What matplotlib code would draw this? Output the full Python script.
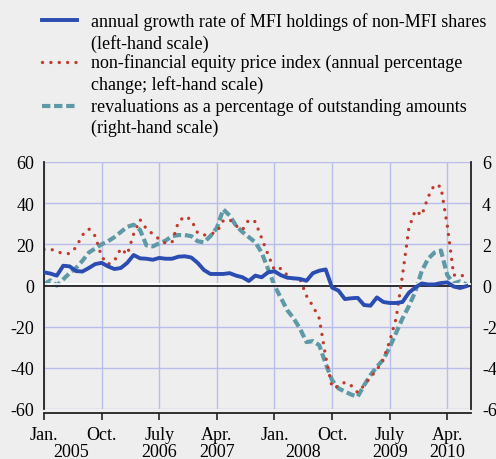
import numpy as np
import matplotlib
matplotlib.use("Agg")
import matplotlib.pyplot as plt
from matplotlib.lines import Line2D
from matplotlib import transforms

# ---------------- data (monthly, Jan. 2005 - July 2010) ----------------
blue = [6.4, 5.8, 4.8, 9.6, 9.3, 7.0, 6.8, 8.5, 10.4, 11.0,
        9.3, 8.0, 8.5, 11.0, 14.8, 13.2, 13.0, 12.5, 13.4, 13.0,
        13.0, 14.0, 14.2, 13.6, 11.0, 7.5, 5.6, 5.6, 5.6, 6.0,
        4.8, 4.0, 2.2, 4.8, 4.0, 6.4, 6.9, 5.0, 3.8, 3.5,
        3.2, 2.3, 6.0, 7.2, 7.8, -1.0, -2.5, -6.6, -6.2, -6.0,
        -9.5, -9.8, -5.8, -8.0, -8.5, -8.5, -8.0, -3.5, -1.0, 1.0,
        0.5, 0.5, 1.2, 1.5, -0.5, -1.2, -0.3]

red = [17.5, 17.7, 16.5, 15.5, 15.5, 18.5, 24.5, 27.5, 24.0, 14.0,
       10.3, 12.0, 18.0, 15.0, 25.0, 32.0, 27.5, 25.0, 22.5, 20.5,
       21.0, 31.0, 33.6, 32.0, 25.5, 24.5, 25.0, 26.0, 31.5, 32.0,
       29.0, 27.0, 32.0, 31.0, 23.0, 15.0, 7.5, 8.3, 5.0, 3.2,
       3.0, -5.0, -10.0, -16.0, -34.6, -49.5, -49.0, -47.0, -48.7, -52.0,
       -48.5, -44.5, -41.0, -36.0, -27.0, -16.0, 5.0, 28.0, 36.5, 34.0,
       43.0, 49.0, 48.0, 29.0, 5.0, 5.5, 3.5]

# right-hand scale
teal = [0.05, 0.25, 0.0, 0.3, 0.6, 0.85, 1.2, 1.6, 1.8, 2.0,
        2.15, 2.35, 2.6, 2.85, 2.95, 2.7, 1.95, 1.9, 2.05, 2.18,
        2.4, 2.45, 2.45, 2.4, 2.15, 2.1, 2.4, 2.8, 3.7, 3.4,
        2.9, 2.6, 2.35, 2.1, 1.6, 0.8, 0.0, -0.6, -1.2, -1.6,
        -2.1, -2.75, -2.7, -2.9, -3.8, -4.6, -5.0, -5.15, -5.3, -5.4,
        -4.85, -4.35, -3.95, -3.6, -3.0, -2.3, -1.6, -1.0, -0.3, 0.7,
        1.3, 1.6, 1.7, 0.5, 0.1, 0.2, 0.05]

tick_pos = [0, 9, 18, 27, 36, 45, 54, 63]
tick_labels = ["Jan.", "Oct.", "July", "Apr.", "Jan.", "Oct.", "July", "Apr."]
year_labels = ["2005", "2006", "2007", "2008", "2009", "2010"]
year_pos = [4.2, 18, 27, 40.4, 54, 63]
left_ticks = [-60, -40, -20, 0, 20, 40, 60]
right_ticks = [-6, -4, -2, 0, 2, 4, 6]
legend_lines = [
    ("annual growth rate of MFI holdings of non-MFI shares", "(left-hand scale)"),
    ("non-financial equity price index (annual percentage", "change; left-hand scale)"),
    ("revaluations as a percentage of outstanding amounts", "(right-hand scale)"),
]

# ---------------- style ----------------
BG = "#eeeeee"
GRID = "#b9bde9"
C_BLUE = "#2b4db2"
C_RED = "#bf3a2b"
C_TEAL = "#5e9aa6"
RED_LS = (0, (0.01, 2.5))
TEAL_LS = (0, (2.0, 0.9))

plt.rcParams['font.family'] = ['Liberation Serif', 'DejaVu Serif']
plt.rcParams['font.size'] = 13

W, H = 496, 460
fig = plt.figure(figsize=(W / 100, H / 100), dpi=100, facecolor=BG)
rect = [44 / W, 1 - 410 / H, 427 / W, 247 / H]
ax = fig.add_axes(rect)
ax2 = ax.twinx()
ax.set_zorder(ax2.get_zorder() + 1)
ax.patch.set_visible(False)
ax2.patch.set_visible(True)
ax2.patch.set_facecolor(BG)

x = np.arange(len(blue))

# right axis (behind), carries the grid and the teal series
ax2.set_ylim(-6, 6)
ax2.set_yticks(right_ticks)
ax2.set_yticklabels([str(v) for v in right_ticks])
ax2.tick_params(axis='y', length=0, pad=8, labelsize=13)
ax2.xaxis.set_visible(True)
ax2.tick_params(axis='x', length=0, labelbottom=False, labeltop=False)
ax2.set_axisbelow(True)
ax2.grid(True, color=GRID, lw=1.0)
ax2.plot(x, teal, color=C_TEAL, lw=3.0, linestyle=TEAL_LS,
         dash_capstyle='butt', zorder=2)
for s in ['top', 'left', 'bottom']:
    ax2.spines[s].set_visible(False)
ax2.spines['right'].set_color('#222222')
ax2.spines['right'].set_linewidth(1.3)

# left axis (front)
ax.set_xlim(0, 66.7)
ax.set_ylim(-60, 60)
ax.set_yticks(left_ticks)
ax.set_yticklabels([str(v) for v in left_ticks])
ax.tick_params(axis='y', length=0, pad=7, labelsize=13)
ax.set_xticks(tick_pos)
ax.set_xticklabels(tick_labels)
ax.tick_params(axis='x', direction='out', length=5, width=1.2, pad=4,
               labelsize=13, color='#222222')
for s in ['top', 'right']:
    ax.spines[s].set_visible(False)
ax.spines['left'].set_color('#222222')
ax.spines['left'].set_linewidth(1.3)
ax.spines['bottom'].set_color('#222222')
ax.spines['bottom'].set_linewidth(1.3)
ax.spines['bottom'].set_position(('outward', 3))

# zero line with its white highlight
ax.axhline(0, color='#222222', lw=1.3, zorder=1.5)
tr_hi = transforms.offset_copy(ax.get_yaxis_transform(), fig=fig, x=0, y=1.7, units='dots')
ax.plot([0, 1], [0, 0], transform=tr_hi, color='white', lw=1.2, zorder=1.4)

ax.plot(x, red, color=C_RED, lw=2.4, linestyle=RED_LS,
        dash_capstyle='round', zorder=2)
ax.plot(x, blue, color=C_BLUE, lw=2.8, solid_joinstyle='round', zorder=3)

# year labels under the month labels
ytr = transforms.blended_transform_factory(ax.transData, fig.transFigure)
for yl, yp in zip(year_labels, year_pos):
    ax.text(yp, 1 - 453 / H, yl, transform=ytr, ha='center', va='center',
            fontsize=13, clip_on=False)

# legend (drawn manually, handle on the first line of each entry)
handle_y = [21, 63, 107]
text_y = [(22, 44), (63, 85), (107, 128)]
styles = [
    dict(color=C_BLUE, lw=2.8, linestyle='-'),
    dict(color=C_RED, lw=2.4, linestyle=RED_LS, dash_capstyle='round'),
    dict(color=C_TEAL, lw=3.0, linestyle=TEAL_LS, dash_capstyle='butt'),
]
for hy, (t1, t2), st, (l1, l2) in zip(handle_y, text_y, styles, legend_lines):
    fig.add_artist(Line2D([42 / W, 77 / W], [1 - hy / H] * 2,
                          transform=fig.transFigure, **st))
    fig.text(91 / W, 1 - t1 / H, l1, ha='left', va='center', fontsize=13)
    fig.text(91 / W, 1 - t2 / H, l2, ha='left', va='center', fontsize=13)

fig.savefig("out.png", dpi=100, facecolor=BG)
